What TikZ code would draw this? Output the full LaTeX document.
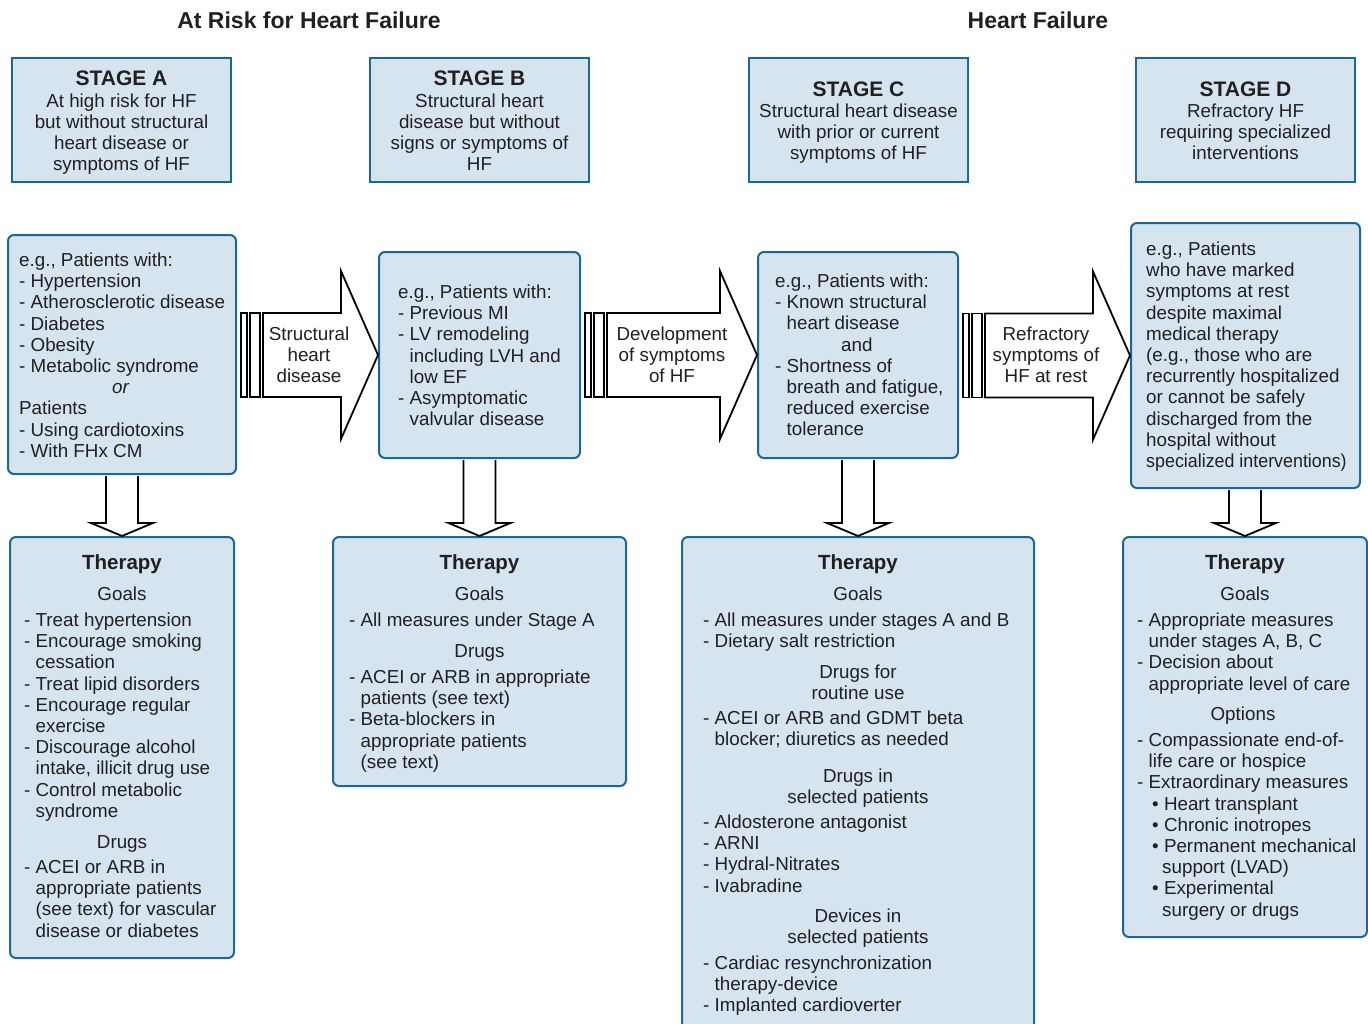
\documentclass[tikz,border=0pt]{standalone}
\usepackage{fontspec}
\usepackage{graphicx}
\setmainfont{Liberation Sans}
\usetikzlibrary{calc}
\definecolor{boxfill}{RGB}{213,228,238}
\definecolor{boxline}{RGB}{25,105,150}
\definecolor{ink}{RGB}{35,31,32}
\newcommand{\bodyfs}{\fontsize{18.8}{21.2}\selectfont}
\newcommand{\ind}{\hphantom{- }}
% block arrow to the right: bars, body and head
\newcommand{\rightblock}[2]{%
  \coordinate (s) at ($(#1.east)+(4,0)$);
  \coordinate (t) at (#2.west);
  \draw[blockline] ($(s|-t)+(0,-42)$) rectangle ($(s|-t)+(6,42)$);
  \draw[blockline] ($(s|-t)+(9,-42)$) rectangle ($(s|-t)+(19,42)$);
  \draw[blockline] ($(s|-t)+(22,-42)$) -- ($(t)+(-37,-42)$) -- ($(t)+(-37,-84)$) -- (t)
    -- ($(t)+(-37,84)$) -- ($(t)+(-37,42)$) -- ($(s|-t)+(22,42)$) -- cycle;
}
% block arrow downwards, open at the top
\newcommand{\downblock}[2]{%
  \coordinate (s) at (#1.south);
  \coordinate (t) at (#2.north);
  \draw[blockline] ($(t|-s)+(-16,1)$) -- ($(t)+(-16,-13)$) -- ($(t)+(-31,-13)$) -- (t)
    -- ($(t)+(31,-13)$) -- ($(t)+(16,-13)$) -- ($(t|-s)+(16,1)$);
}
\begin{document}
\begin{tikzpicture}[x=1pt, y=-1pt,
  stagebox/.style={draw=boxline, fill=boxfill, line width=2pt, inner sep=0pt},
  roundbox/.style={stagebox, rounded corners=6pt},
  blockline/.style={draw=black, fill=white, line width=1.8pt, line join=miter},
  txt/.style={font=\bodyfs, text=ink, inner sep=0pt, align=left, anchor=base west},
  ctxt/.style={txt, align=center, anchor=base},
  hdr/.style={font=\fontsize{23}{27}\selectfont\bfseries, text=ink, inner sep=0pt, anchor=base},
  stagehd/.style={hdr, font=\fontsize{21}{24}\selectfont\bfseries},
  therapyhd/.style={hdr, font=\fontsize{20.5}{24}\selectfont\bfseries}]
  \useasboundingbox (0,0) rectangle (1368,1023);
  % multi-line texts sit on the baseline of their last line: first + (n-1)*21.2

  % headings
  \node[hdr] (riskhd) at (309,28) {At Risk for Heart Failure};
  \node[hdr] (hfhd) at (1038,28) {Heart Failure};

  % stages
  \node[stagebox, minimum width=219, minimum height=124] (stA) at (121.5,120) {};
  \node[stagebox, minimum width=219, minimum height=124] (stB) at (479.5,120) {};
  \node[stagebox, minimum width=219, minimum height=124] (stC) at (858.5,120) {};
  \node[stagebox, minimum width=219, minimum height=124] (stD) at (1245.5,120) {};
  \node[stagehd] (stAhd) at (121.5,85) {STAGE A};
  \node[ctxt] (stAtx) at (121.5,{107+3*21.2}) {At high risk for HF\\but without structural\\heart disease or\\symptoms of HF};
  \node[stagehd] (stBhd) at (479.5,85) {STAGE B};
  \node[ctxt] (stBtx) at (479.5,{107+3*21.2}) {Structural heart\\disease but without\\signs or symptoms of\\HF};
  \node[stagehd] (stChd) at (858.5,96) {STAGE C};
  \node[ctxt] (stCtx) at (858.5,{117.5+2*21.2}) {Structural heart disease\\with prior or current\\symptoms of HF};
  \node[stagehd] (stDhd) at (1245.5,96) {STAGE D};
  \node[ctxt] (stDtx) at (1245.5,{117.5+2*21.2}) {Refractory HF\\requiring specialized\\interventions};

  % patients
  \node[roundbox, minimum width=228, minimum height=239] (riskA) at (122,354.5) {};
  \node[roundbox, minimum width=201, minimum height=206] (structB) at (479.5,355) {};
  \node[roundbox, minimum width=200, minimum height=206] (sympC) at (858,355) {};
  \node[roundbox, minimum width=229, minimum height=265] (refrD) at (1245.5,355.5) {};
  \node[txt] (riskAtx) at (19,{266.5+9*21.2}) {e.g., Patients with:\\- Hypertension\\- Atherosclerotic disease\\- Diabetes\\- Obesity\\- Metabolic syndrome\\\hspace*{93pt}\textit{or}\\Patients\\- Using cardiotoxins\\- With FHx CM};
  \node[txt] (structBtx) at (398,{298.5+6*21.2}) {e.g., Patients with:\\- Previous MI\\- LV remodeling\\\ind including LVH and\\\ind low EF\\- Asymptomatic\\\ind valvular disease};
  \node[txt] (sympCtx) at (775,{287.5+7*21.2}) {e.g., Patients with:\\- Known structural\\\ind heart disease\\\hspace*{66pt}and\\- Shortness of\\\ind breath and fatigue,\\\ind reduced exercise\\\ind tolerance};
  \node[txt] (refrDtx) at (1146,{255.5+10*21.2}) {e.g., Patients\\who have marked\\symptoms at rest\\despite maximal\\medical therapy\\(e.g., those who are\\recurrently hospitalized\\or cannot be safely\\discharged from the\\hospital without\\\scalebox{0.95}[1]{specialized interventions)}};

  % therapy
  \node[roundbox, minimum width=224, minimum height=421] (thA) at (122,747.5) {};
  \node[roundbox, minimum width=293, minimum height=249] (thB) at (479.5,661.5) {};
  \node[roundbox, minimum width=352, minimum height=508] (thC) at (858,791) {};
  \node[roundbox, minimum width=244, minimum height=400] (thD) at (1245,737) {};

  \node[therapyhd] (thAhd) at (122,569.5) {Therapy};
  \node[ctxt] (thAgo) at (122,600.5) {Goals};
  \node[txt] (thAgl) at (24,{626.5+9*21.2}) {- Treat hypertension\\- Encourage smoking\\\ind cessation\\- Treat lipid disorders\\- Encourage regular\\\ind exercise\\- Discourage alcohol\\\ind intake, illicit drug use\\- Control metabolic\\\ind syndrome};
  \node[ctxt] (thAdr) at (122,848.5) {Drugs};
  \node[txt] (thAdl) at (24,{873.5+3*21.2}) {- ACEI or ARB in\\\ind appropriate patients\\\ind (see text) for vascular\\\ind disease or diabetes};

  \node[therapyhd] (thBhd) at (479.5,569.5) {Therapy};
  \node[ctxt] (thBgo) at (479.5,600.5) {Goals};
  \node[txt] (thBgl) at (349,626.5) {- All measures under Stage A};
  \node[ctxt] (thBdr) at (479.5,657.5) {Drugs};
  \node[txt] (thBdl) at (349,{683.5+4*21.2}) {- ACEI or ARB in appropriate\\\ind patients (see text)\\- Beta-blockers in\\\ind appropriate patients\\\ind (see text)};

  \node[therapyhd] (thChd) at (858,569.5) {Therapy};
  \node[ctxt] (thCgo) at (858,600.5) {Goals};
  \node[txt] (thCgl) at (703,{626.5+21.2}) {- All measures under stages A and B\\- Dietary salt restriction};
  \node[ctxt] (thCdr) at (858,{678.5+21.2}) {Drugs for\\routine use};
  \node[txt] (thCdl) at (703,{724.5+21.2}) {- ACEI or ARB and GDMT beta\\\ind blocker; diuretics as needed};
  \node[ctxt] (thCsel) at (858,{782.5+21.2}) {Drugs in\\selected patients};
  \node[txt] (thCsl) at (703,{828.5+3*21.2}) {- Aldosterone antagonist\\- ARNI\\- Hydral-Nitrates\\- Ivabradine};
  \node[ctxt] (thCdev) at (858,{922.5+21.2}) {Devices in\\selected patients};
  \node[txt] (thCdvl) at (703,{969.5+2*21.2}) {- Cardiac resynchronization\\\ind therapy-device\\- Implanted cardioverter};

  \node[therapyhd] (thDhd) at (1245,569.5) {Therapy};
  \node[ctxt] (thDgo) at (1245,600.5) {Goals};
  \node[txt] (thDgl) at (1137,{626.5+3*21.2}) {- Appropriate measures\\\ind under stages A, B, C\\- Decision about\\\ind appropriate level of care};
  \node[ctxt] (thDop) at (1243,720.5) {Options};
  \node[txt] (thDol) at (1137,{746.5+8*21.2}) {- Compassionate end-of-\\\ind life care or hospice\\- Extraordinary measures\\\hspace*{15pt}• Heart transplant\\\hspace*{15pt}• Chronic inotropes\\\hspace*{15pt}• Permanent mechanical\\\hspace*{25pt}support (LVAD)\\\hspace*{15pt}• Experimental\\\hspace*{25pt}surgery or drugs};

  % block arrows
  \rightblock{riskA}{structB}
  \rightblock{structB}{sympC}
  \rightblock{sympC}{refrD}
  \node[ctxt] (arAB) at (309,{340.5+2*21.2}) {Structural\\heart\\disease};
  \node[ctxt] (arBC) at (672,{340.5+2*21.2}) {Development\\of symptoms\\of HF};
  \node[ctxt] (arCD) at (1046,{340.5+2*21.2}) {Refractory\\symptoms of\\HF at rest};
  \downblock{riskA}{thA}
  \downblock{structB}{thB}
  \downblock{sympC}{thC}
  \downblock{refrD}{thD}
\end{tikzpicture}
\end{document}
